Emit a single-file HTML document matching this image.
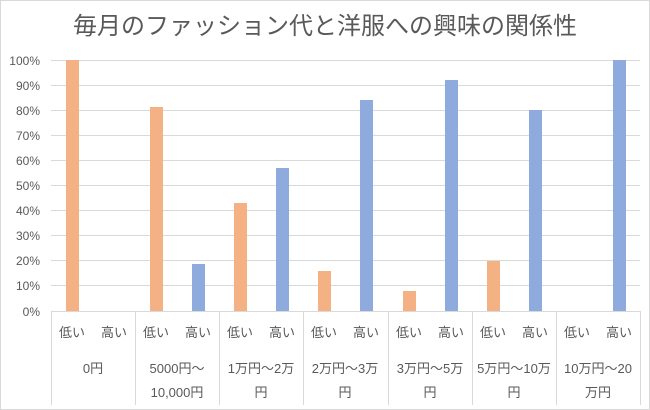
<!DOCTYPE html><html><head><meta charset="utf-8"><style>body{margin:0;background:#fff}svg{display:block}text{font-family:"Liberation Sans","Noto Sans CJK JP",sans-serif;fill:#595959}</style></head><body>
<svg width="650" height="410" xmlns="http://www.w3.org/2000/svg">
<rect x="0.5" y="0.5" width="649" height="409" fill="#fff" stroke="#d9d9d9"/>
<text x="325" y="34" font-size="24" text-anchor="middle">毎月のファッション代と洋服への興味の関係性</text>
<g stroke="#d9d9d9" stroke-width="1">
<line x1="51" x2="640" y1="60.5" y2="60.5"/><line x1="51" x2="640" y1="85.5" y2="85.5"/><line x1="51" x2="640" y1="110.5" y2="110.5"/><line x1="51" x2="640" y1="135.5" y2="135.5"/><line x1="51" x2="640" y1="160.5" y2="160.5"/><line x1="51" x2="640" y1="185.5" y2="185.5"/><line x1="51" x2="640" y1="210.5" y2="210.5"/><line x1="51" x2="640" y1="235.5" y2="235.5"/><line x1="51" x2="640" y1="260.5" y2="260.5"/><line x1="51" x2="640" y1="285.5" y2="285.5"/><line x1="51" x2="640" y1="311.5" y2="311.5"/>
<line x1="51.5" x2="51.5" y1="311" y2="405"/><line x1="135.5" x2="135.5" y1="311" y2="405"/><line x1="219.5" x2="219.5" y1="311" y2="405"/><line x1="303.5" x2="303.5" y1="311" y2="405"/><line x1="388.5" x2="388.5" y1="311" y2="405"/><line x1="472.5" x2="472.5" y1="311" y2="405"/><line x1="556.5" x2="556.5" y1="311" y2="405"/><line x1="640.5" x2="640.5" y1="311" y2="405"/>
</g>
<g font-size="12" text-anchor="end">
<text x="40" y="65">100%</text><text x="40" y="90">90%</text><text x="40" y="115">80%</text><text x="40" y="140">70%</text><text x="40" y="165">60%</text><text x="40" y="190">50%</text><text x="40" y="215">40%</text><text x="40" y="240">30%</text><text x="40" y="265">20%</text><text x="40" y="290">10%</text><text x="40" y="316">0%</text>
</g>
<g fill="#f4b183">
<rect x="66" y="60" width="13" height="251"/>
<rect x="150" y="107" width="13" height="204"/>
<rect x="234" y="203" width="13" height="108"/>
<rect x="318" y="271" width="13" height="40"/>
<rect x="403" y="291" width="13" height="20"/>
<rect x="487" y="261" width="13" height="50"/>
</g>
<g fill="#8faadc">
<rect x="192" y="264" width="13" height="47"/>
<rect x="276" y="168" width="13" height="143"/>
<rect x="360" y="100" width="13" height="211"/>
<rect x="445" y="80" width="13" height="231"/>
<rect x="529" y="110" width="13" height="201"/>
<rect x="613" y="60" width="13" height="251"/>
</g>
<g font-size="13" text-anchor="middle">
<text x="72" y="337">低い</text><text x="114" y="337">高い</text>
<text x="156" y="337">低い</text><text x="198" y="337">高い</text>
<text x="240" y="337">低い</text><text x="282" y="337">高い</text>
<text x="324" y="337">低い</text><text x="366" y="337">高い</text>
<text x="409" y="337">低い</text><text x="451" y="337">高い</text>
<text x="493" y="337">低い</text><text x="535" y="337">高い</text>
<text x="577" y="337">低い</text><text x="619" y="337">高い</text>
<text x="93" y="373">0円</text>
<text x="177" y="373">5000円～</text><text x="177" y="397">10,000円</text>
<text x="261" y="373">1万円～2万</text><text x="261" y="397">円</text>
<text x="345" y="373">2万円～3万</text><text x="345" y="397">円</text>
<text x="430" y="373">3万円～5万</text><text x="430" y="397">円</text>
<text x="514" y="373">5万円～10万</text><text x="514" y="397">円</text>
<text x="598" y="373">10万円～20</text><text x="598" y="397">万円</text>
</g>
</svg></body></html>
